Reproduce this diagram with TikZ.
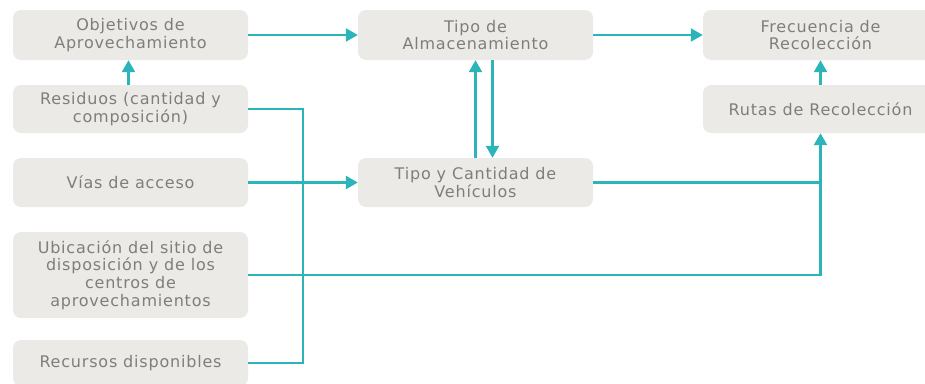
\documentclass[tikz,border=0pt]{standalone}
\usepackage{fontspec}
\setmainfont{DejaVu Sans}[LetterSpace=5]
\usepackage{xcolor}
\usetikzlibrary{arrows.meta}
\definecolor{boxgray}{HTML}{EBEAE6}
\definecolor{txtgray}{HTML}{7E7E7E}
\definecolor{flowteal}{HTML}{2BB5BA}
\tikzset{
  caja/.style={fill=boxgray, rounded corners=8pt, text=txtgray, align=center,
    minimum width=235pt, font=\fontsize{16}{17.8}\selectfont, inner sep=0pt},
  flujo/.style={line width=2.4pt, flowteal, -{Triangle[length=12pt,width=13pt]}},
  linea/.style={line width=2.4pt, flowteal}
}

\begin{document}
\begin{tikzpicture}[x=1pt, y=-1pt]
\useasboundingbox (0,0) rectangle (925,383);
\clip (0,0) rectangle (925,383);
% columna izquierda
\node[caja, minimum height=50pt] (obj) at (130.5,35) {Objetivos de\\Aprovechamiento};
\node[caja, minimum height=48pt] (res) at (130.5,109) {Residuos (cantidad y\\composición)};
\node[caja, minimum height=49pt] (vias) at (130.5,182.5) {Vías de acceso};
\node[caja, minimum height=86pt] (ubic) at (130.5,275) {Ubicación del sitio de\\disposición y de los\\centros de\\aprovechamientos};
\node[caja, minimum height=46pt] (recur) at (130.5,363) {Recursos disponibles};
% columna central
\node[caja, minimum height=50pt] (alm) at (475.5,35) {Tipo de\\Almacenamiento};
\node[caja, minimum height=49pt] (veh) at (475.5,182.5) {Tipo y Cantidad de\\Vehículos};
% columna derecha
\node[caja, minimum height=50pt] (frec) at (820.5,35) {Frecuencia de\\Recolección};
\node[caja, minimum height=48pt] (rut) at (820.5,109) {Rutas de Recolección};
\coordinate (bus) at (303,0);
\coordinate (sub) at (820.5,0);
% conexiones
\draw[flujo] (obj.east) -- (alm.west);
\draw[flujo] (alm.east) -- (frec.west);
\draw[flujo] ([xshift=-2pt]res.north) -- ([xshift=-2pt]obj.south);
\draw[flujo] (rut.north) -- (frec.south);
\draw[flujo] (veh.north) -- (alm.south);
\draw[flujo] ([xshift=17pt]alm.south) -- ([xshift=17pt]veh.north);
\draw[linea] (res.east) -| (bus |- recur.east) -- (recur.east);
\draw[flujo] (vias.east) -- (veh.west);
\draw[flujo] (ubic.east) -| (rut.south);
\draw[linea] (veh.east) -- (sub |- veh.east);
\end{tikzpicture}
\end{document}
